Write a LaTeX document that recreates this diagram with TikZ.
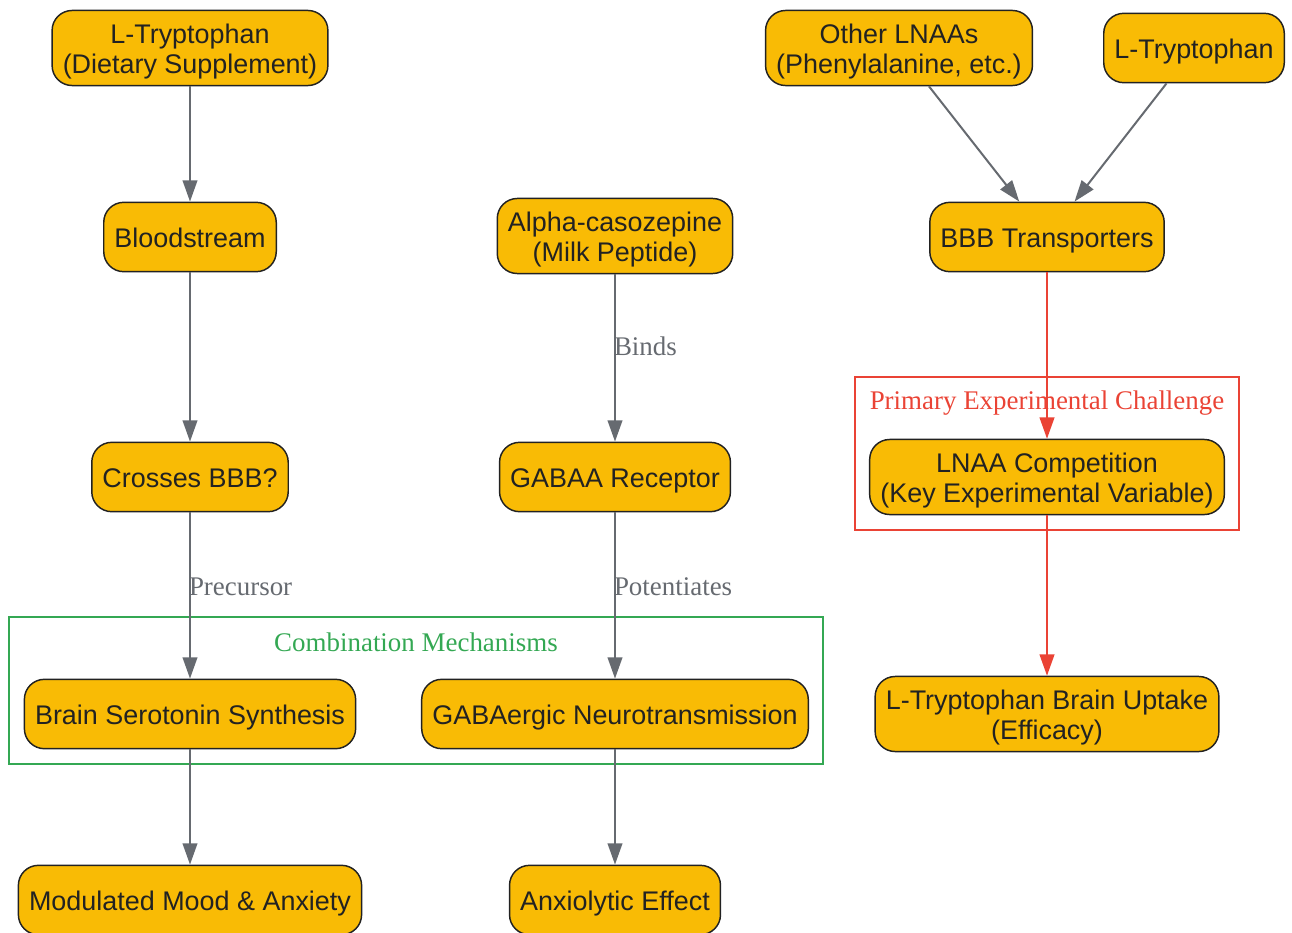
\documentclass[tikz,border=0pt]{standalone}
\usepackage{fontspec}
\setmainfont{Liberation Serif}
\newfontfamily\boxfont{Liberation Sans}
\usepackage{tikz}
\usetikzlibrary{positioning}
\usetikzlibrary{arrows.meta}
\definecolor{amber}{HTML}{F9BB05}
\definecolor{ink}{HTML}{222222}
\definecolor{wire}{HTML}{666A70}
\definecolor{alarm}{HTML}{EA4335}
\definecolor{leaf}{HTML}{34A853}
\tikzstyle{line} = [draw=wire, line width=1.5pt, -{Triangle[length=16pt,width=11pt]}]
\tikzstyle{redline} = [draw=alarm, line width=1.5pt, -{Triangle[length=16pt,width=11pt]}]
\newcommand{\tallstrut}{\rule{0pt}{20pt}}

\begin{document}
\begin{tikzpicture}[x=0.75pt, y=-0.75pt,
		stage/.style = {rectangle, rounded corners=15pt,
			draw=ink, line width=1.1pt, fill=amber, text=ink,
			font=\boxfont\fontsize{20.2}{22.5}\selectfont,
			align=center, minimum height=52pt,
			text height=20pt, text depth=4pt,
			inner xsep=8pt, inner ysep=4.8pt},
		pair/.style = {text height=, text depth=},
		tag/.style = {font=\fontsize{20.2}{22}\selectfont,
			text=wire, anchor=west, inner sep=0pt, xshift=-1.5pt}]
		
		\useasboundingbox (0,0) rectangle (1292,932);
		
		% Clusters
		\draw[leaf, line width=1.1pt] (9,617) rectangle (823,764);
		\node[font=\fontsize{20.2}{22}\selectfont, text=leaf] (combo) at (416,642) {Combination Mechanisms};
		\draw[alarm, line width=1.1pt] (855,377) rectangle (1239,530);
		\node[font=\fontsize{20.2}{22}\selectfont, text=alarm] (challenge) at (1047,403) {Primary Experimental Challenge};
		
		% Tryptophan branch
		\node[stage, pair] (trp) at (190,48) {\tallstrut L-Tryptophan\\(Dietary Supplement)};
		\node[stage] (blood) at (190,237) {Bloodstream};
		\node[stage] (cross) at (190,477) {Crosses BBB?};
		\node[stage] (sero) at (190,714) {Brain Serotonin Synthesis};
		\node[stage] (mood) at (190,900) {Modulated Mood \& Anxiety};
		
		% Casozepine branch
		\node[stage, pair] (caso) at (615,236) {\tallstrut Alpha-casozepine\\(Milk Peptide)};
		\node[stage] (gabaa) at (615,477) {GABAA Receptor};
		\node[stage] (gaba) at (615,714) {GABAergic Neurotransmission};
		\node[stage] (calm) at (615,900) {Anxiolytic Effect};
		
		% Transport branch
		\node[stage, pair] (lnaa) at (899,48) {\tallstrut Other LNAAs\\(Phenylalanine, etc.)};
		\node[stage] (trpb) at (1194,48) {L-Tryptophan};
		\node[stage] (bbb) at (1047,237) {BBB Transporters};
		\node[stage, pair] (comp) at (1047,477) {\tallstrut LNAA Competition\\(Key Experimental Variable)};
		\node[stage, pair] (uptake) at (1047,714) {\tallstrut L-Tryptophan Brain Uptake\\(Efficacy)};
		
		% Arrows
		\path[line] (trp) -- (blood);
		\path[line] (blood) -- (cross);
		\path[line] (cross) -- node[tag, pos=0.45] {Precursor} (sero);
		\path[line] (sero) -- (mood);
		\path[line] (caso) -- node[tag, pos=0.43] {Binds} (gabaa);
		\path[line] (gabaa) -- node[tag, pos=0.45] {Potentiates} (gaba);
		\path[line] (gaba) -- (calm);
		\path[line] (lnaa) -- (bbb);
		\path[line] (trpb) -- (bbb);
		\path[redline] (bbb) -- (comp);
		\path[redline] (comp) -- (uptake);
	\end{tikzpicture}
\end{document}
